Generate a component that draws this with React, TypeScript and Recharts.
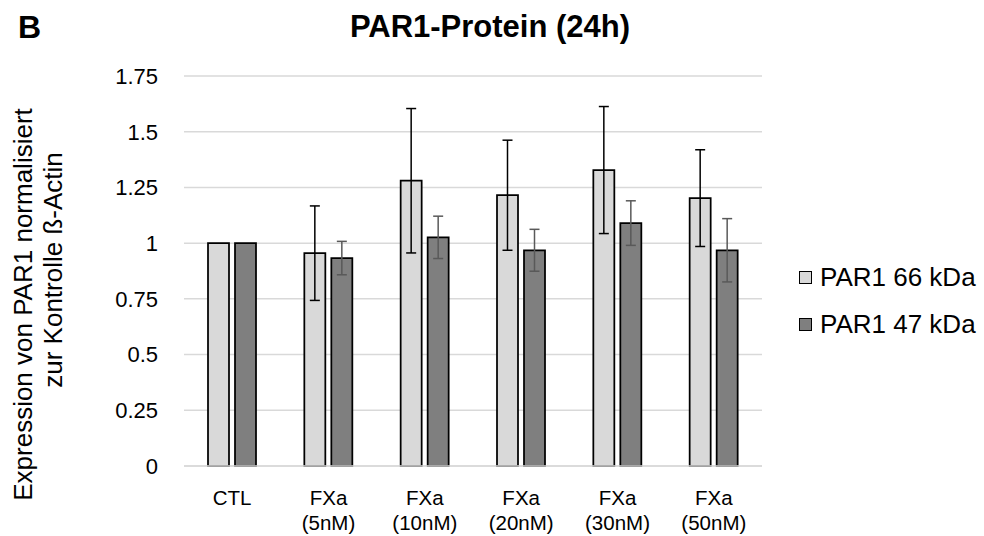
import { BarChart, Bar, XAxis, YAxis, CartesianGrid, ErrorBar } from "recharts";

const categories = ["CTL", "FXa (5nM)", "FXa (10nM)", "FXa (20nM)", "FXa (30nM)", "FXa (50nM)"];
const par66 = [1, 0.955, 1.28, 1.215, 1.328, 1.202];
const par66Err = [null, 0.212, 0.324, 0.247, 0.285, 0.217];
const par47 = [1, 0.933, 1.026, 0.968, 1.09, 0.968];
const par47Err = [null, 0.075, 0.095, 0.094, 0.1, 0.142];
const yTicks = [0, 0.25, 0.5, 0.75, 1, 1.25, 1.5, 1.75];
const seriesNames = ["PAR1 66 kDa", "PAR1 47 kDa"];
const seriesColors = ["#d9d9d9", "#7f7f7f"];

const data = categories.map((name, i) => ({
  name,
  p66: par66[i],
  p66Err: par66Err[i],
  p47: par47[i],
  p47Err: par47Err[i],
}));

const FONT = "'Liberation Sans', Arial, sans-serif";

function XTick(props: any) {
  const { x, y, payload } = props;
  const parts = String(payload.value).split(" ");
  return (
    <text x={x} y={y} textAnchor="middle" fontSize={20.5} fill="#000" fontFamily={FONT}>
      {parts.map((p, i) => (
        <tspan key={i} x={x} y={y + 37 + i * 25}>
          {p}
        </tspan>
      ))}
    </text>
  );
}

function YLabel() {
  return (
    <g fontFamily={FONT} fontSize={26} fill="#000">
      <text x={31.5} y={304.5} textAnchor="middle" transform="rotate(-90 31.5 304.5)">
        Expression von PAR1 normalisiert
      </text>
      <text x={61.5} y={270} textAnchor="middle" transform="rotate(-90 61.5 270)">
        zur Kontrolle ß-Actin
      </text>
    </g>
  );
}

export default function App() {
  return (
    <div style={{ position: "absolute", left: 0, top: 0, width: 984, height: 536, background: "#fff" }}>
      <div
        style={{
          position: "absolute",
          left: 18,
          top: 9,
          fontFamily: FONT,
          fontWeight: "bold",
          fontSize: 32,
        }}
      >
        B
      </div>
      <div
        style={{
          position: "absolute",
          left: 0,
          width: 980,
          top: 9,
          textAlign: "center",
          fontFamily: FONT,
          fontWeight: "bold",
          fontSize: 31,
        }}
      >
        PAR1-Protein (24h)
      </div>
      <BarChart
        width={984}
        height={536}
        data={data}
        margin={{ top: 76, right: 222, bottom: 0, left: 0 }}
        barSize={21}
        barGap={6}
      >
        <CartesianGrid vertical={false} stroke="#d9d9d9" strokeWidth={1.5} />
        <XAxis
          dataKey="name"
          tick={<XTick />}
          tickLine={false}
          axisLine={{ stroke: "#d9d9d9", strokeWidth: 1.5 }}
          tickSize={0}
          interval={0}
          height={70}
        />
        <YAxis
          domain={[0, 1.75]}
          ticks={yTicks}
          width={184}
          tickLine={false}
          axisLine={false}
          tickSize={0}
          tickMargin={26}
          tick={{ fontSize: 22, fill: "#000", fontFamily: FONT }}
          label={{ content: () => <YLabel /> }}
        />
        <Bar dataKey="p66" name={seriesNames[0]} fill={seriesColors[0]} stroke="#000" strokeWidth={1.75} isAnimationActive={false}>
          <ErrorBar dataKey="p66Err" width={5} stroke="#000" strokeWidth={1.5} />
        </Bar>
        <Bar dataKey="p47" name={seriesNames[1]} fill={seriesColors[1]} stroke="#000" strokeWidth={1.75} isAnimationActive={false}>
          <ErrorBar dataKey="p47Err" width={5} stroke="#595959" strokeWidth={1.5} />
        </Bar>
      </BarChart>
      <div
        style={{
          position: "absolute",
          left: 799,
          top: 254,
          fontFamily: FONT,
          fontSize: 26,
          color: "#000",
        }}
      >
        {seriesNames.map((label, i) => (
          <div key={label} style={{ display: "flex", alignItems: "center", height: 47 }}>
            <span
              style={{
                width: 11,
                height: 11,
                background: seriesColors[i],
                border: "1.5px solid #000",
                marginRight: 8,
                display: "inline-block",
              }}
            />
            <span>{label}</span>
          </div>
        ))}
      </div>
    </div>
  );
}
